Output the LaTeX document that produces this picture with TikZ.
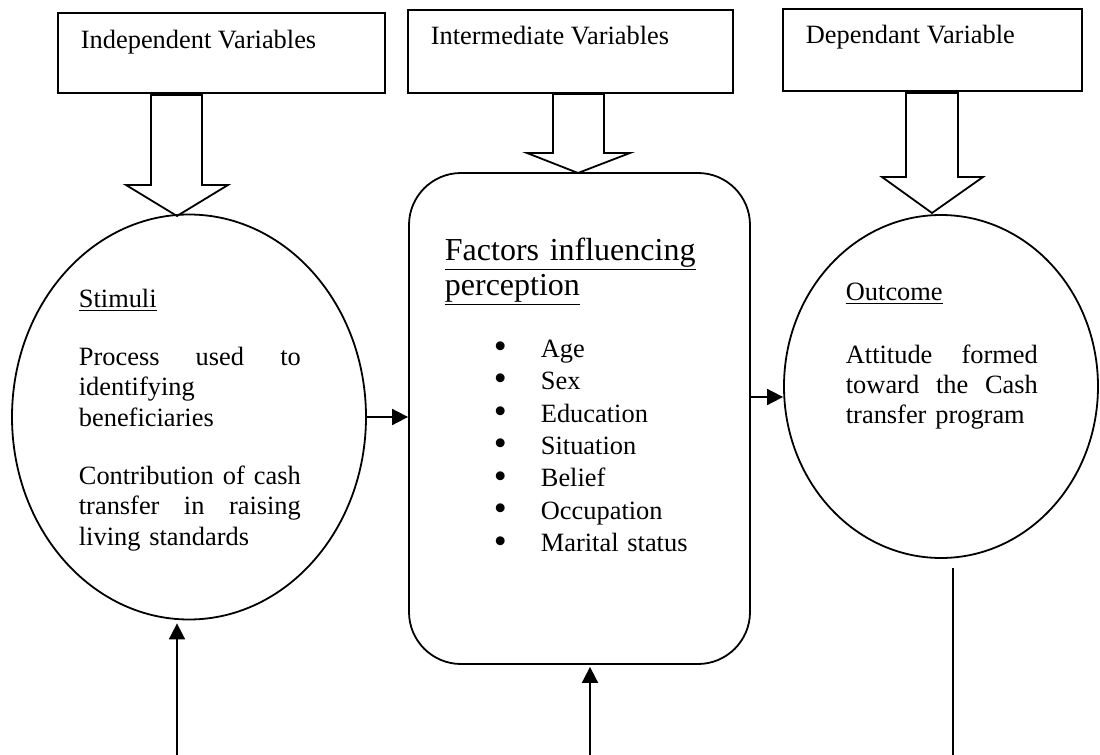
\documentclass[tikz,border=0pt]{standalone}
\usepackage{fontspec}
\usepackage{graphicx}
\setmainfont{Liberation Serif}
\usetikzlibrary{shapes.geometric,arrows.meta}
\newcommand\jline[2]{\leavevmode\hbox to #1{#2}}
\newcommand\bul{\leavevmode\hbox to 23.5pt{\smash{\raisebox{-0.7pt}{\scalebox{1.4}{\textbullet}}}\hfil}}
\begin{document}
\begin{tikzpicture}[x=0.5pt,y=-0.5pt,
  line width=0.9pt,
  varbox/.style={draw,rectangle,inner sep=0pt},
  lbl/.style={anchor=base west,inner sep=0pt,font=\fontsize{13.2}{15.2}\selectfont},
  blk/.style={anchor=base west,inner sep=0pt,align=left,font=\fontsize{13.2}{15.2}\selectfont},
  circ/.style={draw,ellipse,inner sep=0pt},
  arr/.style={-{Triangle[length=8pt,width=8pt]}},
  blockarr/.style={draw,line join=miter}
]
\useasboundingbox (0,0) rectangle (1100,755);

% top boxes
\node[varbox,minimum width=163.5pt,minimum height=40pt] (box1) at (221.5,53) {};
\node[varbox,minimum width=162.5pt,minimum height=41.5pt] (box2) at (570.5,51.5) {};
\node[varbox,minimum width=149.5pt,minimum height=41pt] (box3) at (932.5,50) {};
\node[lbl] (t1) at (80,48) {Independent Variables};
\node[lbl] (t2) at (430,45) {Intermediate Variables};
\node[lbl] (t3) at (805,43) {Dependant Variable};

% block arrows
\draw[blockarr] (151,95) -- (202,95) -- (202,185) -- (228,185) -- (177,216) -- (126,185) -- (151,185) -- cycle;
\draw[blockarr] (553,94) -- (604,94) -- (604,153) -- (630,153) -- (578,173) -- (527,153) -- (553,153) -- cycle;
\draw[blockarr] (906,93) -- (958,93) -- (958,177) -- (983,177) -- (932,213) -- (882,177) -- (906,177) -- cycle;

% main shapes
\node[circ,minimum width=177pt,minimum height=202.5pt] (stim) at (189,417) {};
\node[draw,rounded corners=26pt,minimum width=170.5pt,minimum height=245.5pt,inner sep=0pt] (fac) at (579.5,418.5) {};
\node[circ,minimum width=157pt,minimum height=171.5pt] (out) at (941,386.5) {};

% texts
\node[blk,text width=111pt] (stimtext) at (78,307) {\underline{Stimuli}\\[14pt]
\jline{111pt}{Process\hfill used\hfill to}\\
identifying\\
beneficiaries\\[14pt]
\jline{111pt}{Contribution\hfill of\hfill cash}\\
\jline{111pt}{transfer\hfill in\hfill raising}\\
living standards};

\node[anchor=base west,inner sep=0pt,align=left,text width=140pt,font=\fontsize{16}{17.5}\selectfont] (factext) at (444,260) {\underline{Factors influencing}\\\underline{perception}};

\node[anchor=base west,inner sep=0pt,align=left,text width=100pt,font=\fontsize{13.2}{16.25}\selectfont] (list) at (493,357) {\bul Age\\
\bul Sex\\
\bul Education\\
\bul Situation\\
\bul Belief\\
\bul Occupation\\
\bul Marital status};

\node[blk,text width=96pt] (outtext) at (845,300) {\underline{Outcome}\\[16.3pt]
\jline{96pt}{Attitude\hfill formed}\\
\jline{96pt}{toward\hfill the\hfill Cash}\\
transfer program};

% connectors
\coordinate (y2) at (0,397);
\draw[arr] (stim.east) -- (stim.east -| fac.west);
\draw[arr] (fac.east |- y2) -- (out.west |- y2);
\coordinate (b1) at (177,755);
\coordinate (b2) at (590,755);
\coordinate (b3) at (953,755);
\coordinate (t3top) at (953,568);
\draw[arr,shorten >=1.5pt] (b1) -- (b1 |- stim.south);
\draw[arr,shorten >=1pt] (b2) -- (b2 |- fac.south);
\draw (t3top) -- (b3);
\end{tikzpicture}
\end{document}
